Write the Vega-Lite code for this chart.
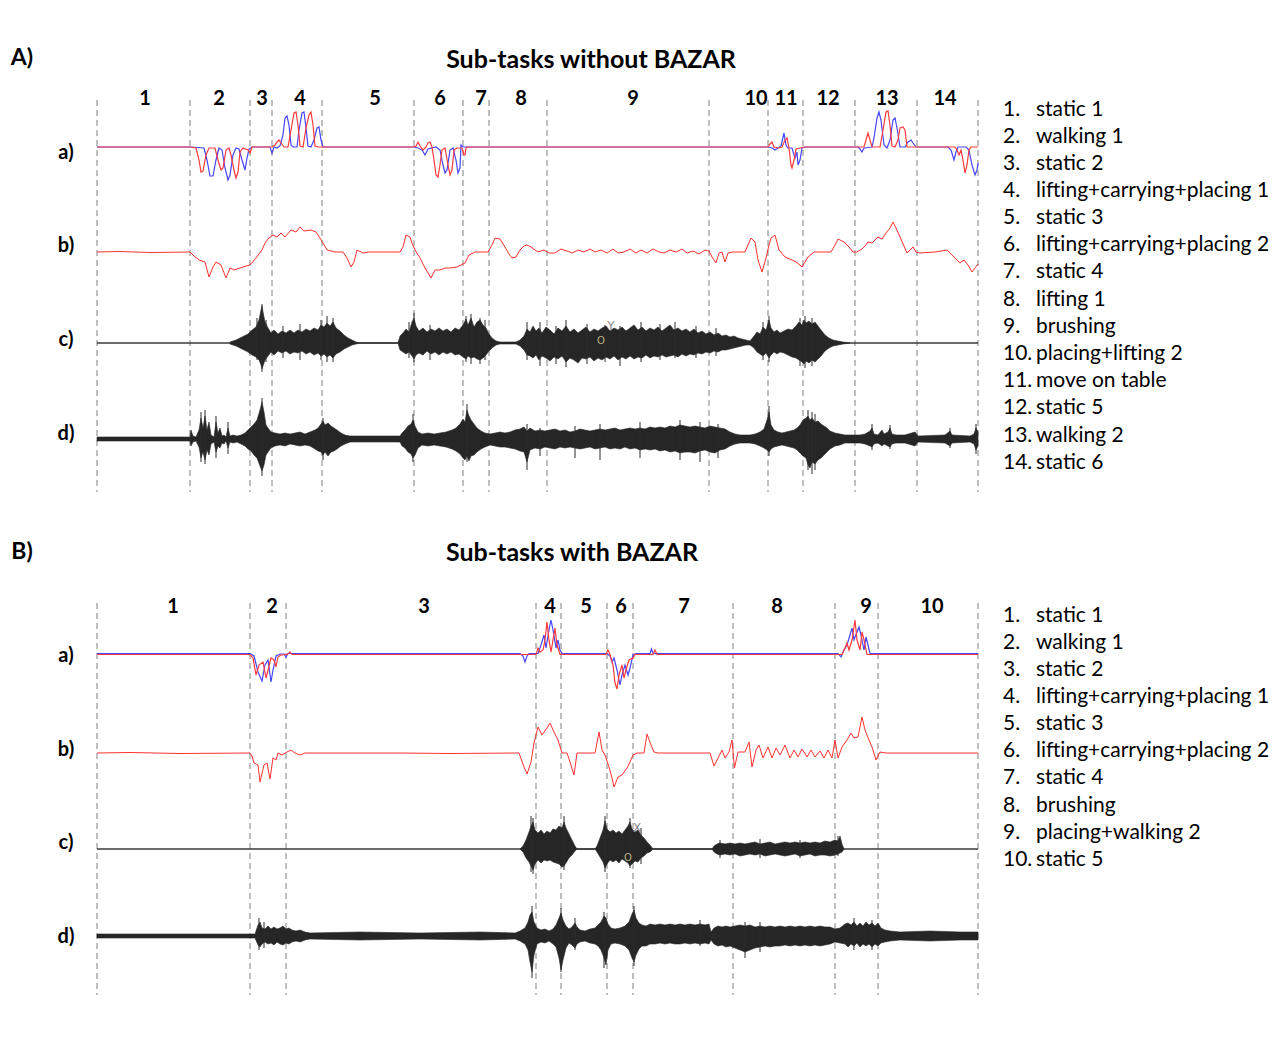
{
"$schema": "https://vega.github.io/schema/vega-lite/v6.json",
"width": 1286, "height": 1039,
"autosize": {"type": "fit", "contains": "padding"},
"padding": 0,
"background": "white",
"config": {"view": {"stroke": null}},
"datasets": {
"bounds": [
{"t":97,"y":100,"y2":492},{"t":190,"y":100,"y2":492},{"t":250,"y":100,"y2":492},{"t":272,"y":100,"y2":492},{"t":322,"y":100,"y2":492},{"t":414,"y":100,"y2":492},{"t":463,"y":100,"y2":492},{"t":489,"y":100,"y2":492},{"t":547,"y":100,"y2":492},{"t":709,"y":100,"y2":492},{"t":768,"y":100,"y2":492},{"t":803,"y":100,"y2":492},{"t":855,"y":100,"y2":492},{"t":917,"y":100,"y2":492},{"t":978,"y":100,"y2":492},
{"t":97,"y":603,"y2":995},{"t":250,"y":603,"y2":995},{"t":286,"y":603,"y2":995},{"t":536,"y":603,"y2":995},{"t":561,"y":603,"y2":995},{"t":607,"y":603,"y2":995},{"t":633,"y":603,"y2":995},{"t":733,"y":603,"y2":995},{"t":835,"y":603,"y2":995},{"t":878,"y":603,"y2":995},{"t":978,"y":603,"y2":995}
],
"baselines": [{"t":97,"t2":978,"y":343},{"t":97,"t2":978,"y":849}],
"spikes": [
{"t":257,"y":318,"y2":360},{"t":262,"y":304,"y2":372},{"t":266,"y":320,"y2":362},{"t":283,"y":326,"y2":358},{"t":300,"y":324,"y2":360},{"t":321,"y":320,"y2":360},{"t":327,"y":316,"y2":362},{"t":333,"y":318,"y2":362},{"t":409,"y":322,"y2":358},{"t":414,"y":313,"y2":362},{"t":430,"y":325,"y2":360},{"t":466,"y":316,"y2":362},{"t":471,"y":314,"y2":364},{"t":480,"y":318,"y2":364},{"t":485,"y":320,"y2":360},{"t":527,"y":322,"y2":360},{"t":540,"y":322,"y2":366},{"t":556,"y":326,"y2":364},{"t":566,"y":320,"y2":367},{"t":587,"y":324,"y2":364},{"t":605,"y":325,"y2":362},{"t":620,"y":326,"y2":366},{"t":641,"y":322,"y2":362},{"t":660,"y":324,"y2":360},{"t":675,"y":322,"y2":358},{"t":696,"y":326,"y2":358},{"t":716,"y":328,"y2":356},{"t":763,"y":322,"y2":360},{"t":769,"y":316,"y2":362},{"t":800,"y":318,"y2":366},{"t":805,"y":316,"y2":368},{"t":812,"y":318,"y2":366},
{"t":201,"y":412,"y2":462},{"t":205,"y":410,"y2":464},{"t":216,"y":416,"y2":458},{"t":228,"y":422,"y2":454},{"t":262,"y":398,"y2":476},{"t":323,"y":418,"y2":460},{"t":413,"y":414,"y2":462},{"t":467,"y":404,"y2":462},{"t":527,"y":424,"y2":470},{"t":540,"y":428,"y2":456},{"t":575,"y":426,"y2":458},{"t":600,"y":424,"y2":460},{"t":640,"y":422,"y2":458},{"t":680,"y":420,"y2":460},{"t":700,"y":422,"y2":462},{"t":718,"y":424,"y2":458},{"t":769,"y":406,"y2":456},{"t":808,"y":410,"y2":470},{"t":812,"y":412,"y2":474},{"t":815,"y":414,"y2":470},{"t":872,"y":424,"y2":450},{"t":890,"y":425,"y2":449},{"t":950,"y":428,"y2":448},{"t":976,"y":424,"y2":454},
{"t":531,"y":816,"y2":872},{"t":533,"y":818,"y2":874},{"t":564,"y":816,"y2":870},{"t":605,"y":816,"y2":872},{"t":630,"y":818,"y2":868},{"t":641,"y":828,"y2":864},{"t":720,"y":840,"y2":858},{"t":760,"y":839,"y2":858},{"t":800,"y":840,"y2":858},{"t":838,"y":836,"y2":856},
{"t":259,"y":918,"y2":950},{"t":264,"y":922,"y2":948},{"t":532,"y":906,"y2":978},{"t":561,"y":908,"y2":972},{"t":604,"y":912,"y2":968},{"t":634,"y":906,"y2":966},{"t":575,"y":918,"y2":950},{"t":700,"y":920,"y2":946},{"t":745,"y":922,"y2":958},{"t":760,"y":922,"y2":952},{"t":854,"y":918,"y2":950},{"t":872,"y":920,"y2":950}
],
"env": [
{"trace":"Ac","t":230,"y":342,"y2":344},{"trace":"Ac","t":236,"y":340,"y2":346},{"trace":"Ac","t":242,"y":337,"y2":349},{"trace":"Ac","t":248,"y":334,"y2":352},{"trace":"Ac","t":252,"y":330,"y2":355},{"trace":"Ac","t":256,"y":327,"y2":357},{"trace":"Ac","t":259,"y":320,"y2":360},{"trace":"Ac","t":261,"y":310,"y2":365},{"trace":"Ac","t":262,"y":306,"y2":369},{"trace":"Ac","t":263,"y":312,"y2":366},{"trace":"Ac","t":265,"y":322,"y2":360},{"trace":"Ac","t":268,"y":328,"y2":356},{"trace":"Ac","t":271,"y":333,"y2":352},{"trace":"Ac","t":274,"y":330,"y2":355},{"trace":"Ac","t":278,"y":334,"y2":351},{"trace":"Ac","t":282,"y":331,"y2":353},{"trace":"Ac","t":286,"y":333,"y2":351},{"trace":"Ac","t":290,"y":330,"y2":354},{"trace":"Ac","t":294,"y":333,"y2":352},{"trace":"Ac","t":298,"y":330,"y2":353},{"trace":"Ac","t":302,"y":332,"y2":351},{"trace":"Ac","t":306,"y":329,"y2":354},{"trace":"Ac","t":310,"y":331,"y2":352},{"trace":"Ac","t":314,"y":328,"y2":355},{"trace":"Ac","t":318,"y":330,"y2":353},{"trace":"Ac","t":321,"y":325,"y2":356},{"trace":"Ac","t":324,"y":327,"y2":354},{"trace":"Ac","t":327,"y":323,"y2":357},{"trace":"Ac","t":330,"y":326,"y2":355},{"trace":"Ac","t":333,"y":322,"y2":358},{"trace":"Ac","t":336,"y":328,"y2":354},{"trace":"Ac","t":340,"y":331,"y2":352},{"trace":"Ac","t":344,"y":335,"y2":349},{"trace":"Ac","t":348,"y":338,"y2":347},{"trace":"Ac","t":352,"y":340,"y2":345},{"trace":"Ac","t":356,"y":342,"y2":344},{"trace":"Ac","t":360,"y":343,"y2":343},{"trace":"Ac","t":398,"y":343,"y2":343},
{"trace":"Ac","t":400,"y":336,"y2":350},{"trace":"Ac","t":403,"y":333,"y2":352},{"trace":"Ac","t":406,"y":329,"y2":354},{"trace":"Ac","t":409,"y":332,"y2":352},{"trace":"Ac","t":412,"y":322,"y2":356},{"trace":"Ac","t":414,"y":318,"y2":359},{"trace":"Ac","t":416,"y":326,"y2":355},{"trace":"Ac","t":419,"y":331,"y2":353},{"trace":"Ac","t":423,"y":328,"y2":355},{"trace":"Ac","t":427,"y":332,"y2":351},{"trace":"Ac","t":431,"y":329,"y2":354},{"trace":"Ac","t":435,"y":331,"y2":352},{"trace":"Ac","t":439,"y":328,"y2":355},{"trace":"Ac","t":443,"y":331,"y2":352},{"trace":"Ac","t":447,"y":329,"y2":354},{"trace":"Ac","t":451,"y":332,"y2":352},{"trace":"Ac","t":455,"y":328,"y2":355},{"trace":"Ac","t":459,"y":330,"y2":354},{"trace":"Ac","t":463,"y":325,"y2":357},{"trace":"Ac","t":466,"y":319,"y2":359},{"trace":"Ac","t":468,"y":325,"y2":356},{"trace":"Ac","t":471,"y":318,"y2":358},{"trace":"Ac","t":474,"y":327,"y2":357},{"trace":"Ac","t":477,"y":322,"y2":359},{"trace":"Ac","t":480,"y":320,"y2":360},{"trace":"Ac","t":483,"y":325,"y2":358},{"trace":"Ac","t":486,"y":328,"y2":355},{"trace":"Ac","t":489,"y":334,"y2":351},{"trace":"Ac","t":492,"y":338,"y2":348},{"trace":"Ac","t":496,"y":341,"y2":345},{"trace":"Ac","t":500,"y":342,"y2":344},{"trace":"Ac","t":516,"y":342,"y2":344},
{"trace":"Ac","t":520,"y":340,"y2":346},{"trace":"Ac","t":524,"y":336,"y2":350},{"trace":"Ac","t":527,"y":329,"y2":355},{"trace":"Ac","t":530,"y":332,"y2":356},{"trace":"Ac","t":533,"y":326,"y2":358},{"trace":"Ac","t":536,"y":331,"y2":355},{"trace":"Ac","t":539,"y":328,"y2":360},{"trace":"Ac","t":542,"y":333,"y2":356},{"trace":"Ac","t":546,"y":327,"y2":358},{"trace":"Ac","t":550,"y":330,"y2":361},{"trace":"Ac","t":554,"y":334,"y2":357},{"trace":"Ac","t":558,"y":328,"y2":359},{"trace":"Ac","t":562,"y":331,"y2":356},{"trace":"Ac","t":566,"y":326,"y2":362},{"trace":"Ac","t":570,"y":332,"y2":358},{"trace":"Ac","t":574,"y":329,"y2":360},{"trace":"Ac","t":578,"y":333,"y2":363},{"trace":"Ac","t":582,"y":330,"y2":358},{"trace":"Ac","t":586,"y":327,"y2":359},{"trace":"Ac","t":590,"y":332,"y2":357},{"trace":"Ac","t":594,"y":329,"y2":361},{"trace":"Ac","t":598,"y":331,"y2":358},{"trace":"Ac","t":602,"y":328,"y2":360},{"trace":"Ac","t":606,"y":326,"y2":357},{"trace":"Ac","t":610,"y":331,"y2":359},{"trace":"Ac","t":614,"y":328,"y2":356},{"trace":"Ac","t":618,"y":330,"y2":360},{"trace":"Ac","t":622,"y":327,"y2":357},{"trace":"Ac","t":626,"y":331,"y2":359},{"trace":"Ac","t":630,"y":328,"y2":356},{"trace":"Ac","t":634,"y":325,"y2":359},{"trace":"Ac","t":638,"y":330,"y2":357},{"trace":"Ac","t":642,"y":327,"y2":358},{"trace":"Ac","t":646,"y":331,"y2":355},{"trace":"Ac","t":650,"y":328,"y2":358},{"trace":"Ac","t":654,"y":330,"y2":356},{"trace":"Ac","t":658,"y":327,"y2":357},{"trace":"Ac","t":662,"y":331,"y2":355},{"trace":"Ac","t":666,"y":328,"y2":357},{"trace":"Ac","t":670,"y":325,"y2":356},{"trace":"Ac","t":674,"y":330,"y2":355},{"trace":"Ac","t":678,"y":328,"y2":357},{"trace":"Ac","t":682,"y":331,"y2":354},{"trace":"Ac","t":686,"y":329,"y2":356},{"trace":"Ac","t":690,"y":332,"y2":354},{"trace":"Ac","t":694,"y":329,"y2":355},{"trace":"Ac","t":698,"y":333,"y2":353},{"trace":"Ac","t":702,"y":331,"y2":354},{"trace":"Ac","t":706,"y":334,"y2":352},{"trace":"Ac","t":710,"y":332,"y2":353},{"trace":"Ac","t":714,"y":335,"y2":351},{"trace":"Ac","t":718,"y":333,"y2":352},{"trace":"Ac","t":722,"y":336,"y2":350},{"trace":"Ac","t":726,"y":335,"y2":350},{"trace":"Ac","t":730,"y":337,"y2":349},{"trace":"Ac","t":734,"y":336,"y2":348},{"trace":"Ac","t":738,"y":338,"y2":347},{"trace":"Ac","t":742,"y":339,"y2":346},{"trace":"Ac","t":746,"y":340,"y2":345},{"trace":"Ac","t":750,"y":341,"y2":345},{"trace":"Ac","t":754,"y":336,"y2":348},{"trace":"Ac","t":757,"y":332,"y2":352},{"trace":"Ac","t":760,"y":334,"y2":354},{"trace":"Ac","t":763,"y":327,"y2":356},{"trace":"Ac","t":766,"y":330,"y2":353},{"trace":"Ac","t":769,"y":320,"y2":358},{"trace":"Ac","t":771,"y":328,"y2":355},{"trace":"Ac","t":774,"y":332,"y2":352},{"trace":"Ac","t":777,"y":330,"y2":354},{"trace":"Ac","t":780,"y":333,"y2":352},{"trace":"Ac","t":784,"y":331,"y2":353},{"trace":"Ac","t":788,"y":329,"y2":355},{"trace":"Ac","t":792,"y":330,"y2":357},{"trace":"Ac","t":796,"y":326,"y2":358},{"trace":"Ac","t":799,"y":322,"y2":360},{"trace":"Ac","t":802,"y":325,"y2":362},{"trace":"Ac","t":804,"y":320,"y2":364},{"trace":"Ac","t":806,"y":323,"y2":361},{"trace":"Ac","t":809,"y":321,"y2":363},{"trace":"Ac","t":812,"y":324,"y2":360},{"trace":"Ac","t":815,"y":322,"y2":362},{"trace":"Ac","t":818,"y":326,"y2":359},{"trace":"Ac","t":821,"y":330,"y2":356},{"trace":"Ac","t":825,"y":335,"y2":351},{"trace":"Ac","t":829,"y":338,"y2":348},{"trace":"Ac","t":833,"y":340,"y2":346},{"trace":"Ac","t":838,"y":341,"y2":345},{"trace":"Ac","t":843,"y":342,"y2":344},{"trace":"Ac","t":850,"y":343,"y2":343},
{"trace":"Ad","t":97,"y":437,"y2":441},{"trace":"Ad","t":190,"y":437,"y2":441},{"trace":"Ad","t":191,"y":430,"y2":446},{"trace":"Ad","t":193,"y":436,"y2":442},{"trace":"Ad","t":196,"y":437,"y2":441},{"trace":"Ad","t":199,"y":430,"y2":447},{"trace":"Ad","t":201,"y":418,"y2":458},{"trace":"Ad","t":203,"y":428,"y2":452},{"trace":"Ad","t":205,"y":416,"y2":460},{"trace":"Ad","t":207,"y":430,"y2":450},{"trace":"Ad","t":209,"y":422,"y2":455},{"trace":"Ad","t":211,"y":435,"y2":444},{"trace":"Ad","t":214,"y":437,"y2":442},{"trace":"Ad","t":216,"y":422,"y2":452},{"trace":"Ad","t":218,"y":433,"y2":446},{"trace":"Ad","t":220,"y":428,"y2":448},{"trace":"Ad","t":222,"y":436,"y2":443},{"trace":"Ad","t":224,"y":435,"y2":444},{"trace":"Ad","t":226,"y":437,"y2":441},{"trace":"Ad","t":228,"y":428,"y2":448},{"trace":"Ad","t":230,"y":436,"y2":442},{"trace":"Ad","t":233,"y":435,"y2":443},{"trace":"Ad","t":237,"y":436,"y2":442},{"trace":"Ad","t":241,"y":435,"y2":444},{"trace":"Ad","t":245,"y":433,"y2":446},{"trace":"Ad","t":248,"y":430,"y2":449},{"trace":"Ad","t":251,"y":427,"y2":451},{"trace":"Ad","t":254,"y":424,"y2":455},{"trace":"Ad","t":257,"y":420,"y2":458},{"trace":"Ad","t":260,"y":410,"y2":466},{"trace":"Ad","t":262,"y":402,"y2":471},{"trace":"Ad","t":264,"y":412,"y2":465},{"trace":"Ad","t":266,"y":425,"y2":455},{"trace":"Ad","t":268,"y":428,"y2":452},{"trace":"Ad","t":271,"y":432,"y2":448},{"trace":"Ad","t":275,"y":433,"y2":446},{"trace":"Ad","t":280,"y":434,"y2":445},{"trace":"Ad","t":285,"y":433,"y2":446},{"trace":"Ad","t":290,"y":434,"y2":444},{"trace":"Ad","t":295,"y":433,"y2":445},{"trace":"Ad","t":300,"y":432,"y2":446},{"trace":"Ad","t":305,"y":434,"y2":445},{"trace":"Ad","t":310,"y":432,"y2":446},{"trace":"Ad","t":315,"y":430,"y2":449},{"trace":"Ad","t":318,"y":428,"y2":451},{"trace":"Ad","t":321,"y":424,"y2":452},{"trace":"Ad","t":323,"y":421,"y2":455},{"trace":"Ad","t":325,"y":425,"y2":452},{"trace":"Ad","t":328,"y":423,"y2":456},{"trace":"Ad","t":331,"y":426,"y2":452},{"trace":"Ad","t":334,"y":428,"y2":451},{"trace":"Ad","t":337,"y":430,"y2":449},{"trace":"Ad","t":341,"y":433,"y2":446},{"trace":"Ad","t":345,"y":435,"y2":444},{"trace":"Ad","t":350,"y":436,"y2":442},{"trace":"Ad","t":375,"y":436,"y2":442},{"trace":"Ad","t":400,"y":436,"y2":442},{"trace":"Ad","t":402,"y":433,"y2":446},{"trace":"Ad","t":405,"y":430,"y2":448},{"trace":"Ad","t":408,"y":426,"y2":452},{"trace":"Ad","t":411,"y":424,"y2":454},{"trace":"Ad","t":413,"y":420,"y2":458},{"trace":"Ad","t":415,"y":426,"y2":455},{"trace":"Ad","t":418,"y":432,"y2":448},{"trace":"Ad","t":422,"y":434,"y2":445},{"trace":"Ad","t":428,"y":433,"y2":446},{"trace":"Ad","t":434,"y":434,"y2":445},{"trace":"Ad","t":440,"y":433,"y2":446},{"trace":"Ad","t":446,"y":432,"y2":447},{"trace":"Ad","t":452,"y":430,"y2":449},{"trace":"Ad","t":456,"y":428,"y2":451},{"trace":"Ad","t":460,"y":424,"y2":454},{"trace":"Ad","t":463,"y":419,"y2":458},{"trace":"Ad","t":465,"y":422,"y2":460},{"trace":"Ad","t":467,"y":410,"y2":456},{"trace":"Ad","t":469,"y":416,"y2":461},{"trace":"Ad","t":471,"y":420,"y2":456},{"trace":"Ad","t":474,"y":424,"y2":455},{"trace":"Ad","t":477,"y":428,"y2":452},{"trace":"Ad","t":481,"y":431,"y2":449},{"trace":"Ad","t":485,"y":433,"y2":447},{"trace":"Ad","t":490,"y":434,"y2":445},{"trace":"Ad","t":495,"y":433,"y2":446},{"trace":"Ad","t":500,"y":432,"y2":447},{"trace":"Ad","t":505,"y":433,"y2":447},{"trace":"Ad","t":510,"y":432,"y2":448},{"trace":"Ad","t":515,"y":430,"y2":449},{"trace":"Ad","t":520,"y":429,"y2":451},{"trace":"Ad","t":524,"y":427,"y2":452},{"trace":"Ad","t":527,"y":431,"y2":462},{"trace":"Ad","t":530,"y":428,"y2":450},{"trace":"Ad","t":535,"y":431,"y2":448},{"trace":"Ad","t":540,"y":430,"y2":449},{"trace":"Ad","t":545,"y":431,"y2":447},{"trace":"Ad","t":550,"y":430,"y2":448},{"trace":"Ad","t":555,"y":429,"y2":449},{"trace":"Ad","t":560,"y":431,"y2":447},{"trace":"Ad","t":565,"y":430,"y2":448},{"trace":"Ad","t":570,"y":432,"y2":447},{"trace":"Ad","t":575,"y":431,"y2":448},{"trace":"Ad","t":580,"y":429,"y2":449},{"trace":"Ad","t":585,"y":430,"y2":448},{"trace":"Ad","t":590,"y":431,"y2":447},{"trace":"Ad","t":595,"y":430,"y2":449},{"trace":"Ad","t":600,"y":429,"y2":448},{"trace":"Ad","t":605,"y":430,"y2":447},{"trace":"Ad","t":610,"y":429,"y2":449},{"trace":"Ad","t":615,"y":428,"y2":448},{"trace":"Ad","t":620,"y":430,"y2":449},{"trace":"Ad","t":625,"y":429,"y2":447},{"trace":"Ad","t":630,"y":428,"y2":449},{"trace":"Ad","t":635,"y":429,"y2":448},{"trace":"Ad","t":640,"y":428,"y2":450},{"trace":"Ad","t":645,"y":429,"y2":449},{"trace":"Ad","t":650,"y":427,"y2":450},{"trace":"Ad","t":655,"y":428,"y2":449},{"trace":"Ad","t":660,"y":427,"y2":451},{"trace":"Ad","t":665,"y":428,"y2":450},{"trace":"Ad","t":670,"y":426,"y2":452},{"trace":"Ad","t":675,"y":427,"y2":451},{"trace":"Ad","t":680,"y":425,"y2":453},{"trace":"Ad","t":685,"y":426,"y2":452},{"trace":"Ad","t":690,"y":427,"y2":452},{"trace":"Ad","t":695,"y":426,"y2":453},{"trace":"Ad","t":700,"y":427,"y2":451},{"trace":"Ad","t":705,"y":428,"y2":450},{"trace":"Ad","t":710,"y":426,"y2":452},{"trace":"Ad","t":715,"y":427,"y2":453},{"trace":"Ad","t":720,"y":428,"y2":450},{"trace":"Ad","t":725,"y":429,"y2":449},{"trace":"Ad","t":730,"y":432,"y2":446},{"trace":"Ad","t":735,"y":434,"y2":444},{"trace":"Ad","t":740,"y":435,"y2":443},{"trace":"Ad","t":750,"y":435,"y2":443},{"trace":"Ad","t":755,"y":434,"y2":444},{"trace":"Ad","t":760,"y":432,"y2":446},{"trace":"Ad","t":764,"y":429,"y2":448},{"trace":"Ad","t":767,"y":420,"y2":450},{"trace":"Ad","t":769,"y":412,"y2":452},{"trace":"Ad","t":771,"y":425,"y2":449},{"trace":"Ad","t":774,"y":430,"y2":447},{"trace":"Ad","t":778,"y":432,"y2":446},{"trace":"Ad","t":782,"y":433,"y2":445},{"trace":"Ad","t":786,"y":432,"y2":446},{"trace":"Ad","t":790,"y":431,"y2":447},{"trace":"Ad","t":794,"y":430,"y2":448},{"trace":"Ad","t":797,"y":428,"y2":450},{"trace":"Ad","t":800,"y":425,"y2":453},{"trace":"Ad","t":803,"y":420,"y2":456},{"trace":"Ad","t":806,"y":418,"y2":458},{"trace":"Ad","t":808,"y":416,"y2":465},{"trace":"Ad","t":810,"y":420,"y2":468},{"trace":"Ad","t":812,"y":418,"y2":462},{"trace":"Ad","t":815,"y":422,"y2":464},{"trace":"Ad","t":818,"y":421,"y2":460},{"trace":"Ad","t":821,"y":424,"y2":458},{"trace":"Ad","t":824,"y":426,"y2":455},{"trace":"Ad","t":827,"y":428,"y2":452},{"trace":"Ad","t":830,"y":431,"y2":449},{"trace":"Ad","t":835,"y":433,"y2":446},{"trace":"Ad","t":840,"y":434,"y2":445},{"trace":"Ad","t":845,"y":435,"y2":443},{"trace":"Ad","t":860,"y":435,"y2":443},{"trace":"Ad","t":865,"y":434,"y2":444},{"trace":"Ad","t":870,"y":431,"y2":446},{"trace":"Ad","t":872,"y":428,"y2":447},{"trace":"Ad","t":874,"y":434,"y2":444},{"trace":"Ad","t":878,"y":435,"y2":443},{"trace":"Ad","t":882,"y":430,"y2":446},{"trace":"Ad","t":884,"y":434,"y2":444},{"trace":"Ad","t":888,"y":432,"y2":446},{"trace":"Ad","t":890,"y":428,"y2":447},{"trace":"Ad","t":892,"y":434,"y2":444},{"trace":"Ad","t":896,"y":435,"y2":443},{"trace":"Ad","t":905,"y":435,"y2":443},{"trace":"Ad","t":915,"y":432,"y2":446},{"trace":"Ad","t":918,"y":436,"y2":442},{"trace":"Ad","t":945,"y":435,"y2":443},{"trace":"Ad","t":950,"y":431,"y2":446},{"trace":"Ad","t":952,"y":435,"y2":443},{"trace":"Ad","t":970,"y":436,"y2":442},{"trace":"Ad","t":974,"y":434,"y2":444},{"trace":"Ad","t":976,"y":428,"y2":450},{"trace":"Ad","t":978,"y":432,"y2":446},
{"trace":"Bc","t":520,"y":849,"y2":849},{"trace":"Bc","t":523,"y":846,"y2":852},{"trace":"Bc","t":526,"y":840,"y2":858},{"trace":"Bc","t":529,"y":832,"y2":862},{"trace":"Bc","t":531,"y":826,"y2":866},{"trace":"Bc","t":533,"y":822,"y2":870},{"trace":"Bc","t":535,"y":830,"y2":864},{"trace":"Bc","t":538,"y":833,"y2":860},{"trace":"Bc","t":541,"y":830,"y2":863},{"trace":"Bc","t":544,"y":834,"y2":860},{"trace":"Bc","t":547,"y":831,"y2":861},{"trace":"Bc","t":550,"y":833,"y2":860},{"trace":"Bc","t":553,"y":829,"y2":862},{"trace":"Bc","t":556,"y":830,"y2":863},{"trace":"Bc","t":559,"y":826,"y2":864},{"trace":"Bc","t":562,"y":828,"y2":867},{"trace":"Bc","t":564,"y":822,"y2":866},{"trace":"Bc","t":566,"y":828,"y2":863},{"trace":"Bc","t":569,"y":834,"y2":858},{"trace":"Bc","t":572,"y":840,"y2":855},{"trace":"Bc","t":575,"y":846,"y2":851},{"trace":"Bc","t":577,"y":849,"y2":849},{"trace":"Bc","t":595,"y":849,"y2":849},{"trace":"Bc","t":597,"y":846,"y2":852},{"trace":"Bc","t":600,"y":838,"y2":857},{"trace":"Bc","t":603,"y":830,"y2":862},{"trace":"Bc","t":605,"y":821,"y2":868},{"trace":"Bc","t":607,"y":829,"y2":864},{"trace":"Bc","t":610,"y":832,"y2":860},{"trace":"Bc","t":613,"y":830,"y2":862},{"trace":"Bc","t":616,"y":833,"y2":860},{"trace":"Bc","t":619,"y":831,"y2":863},{"trace":"Bc","t":622,"y":834,"y2":859},{"trace":"Bc","t":625,"y":830,"y2":861},{"trace":"Bc","t":628,"y":826,"y2":863},{"trace":"Bc","t":630,"y":822,"y2":866},{"trace":"Bc","t":632,"y":829,"y2":864},{"trace":"Bc","t":635,"y":832,"y2":861},{"trace":"Bc","t":638,"y":830,"y2":862},{"trace":"Bc","t":641,"y":835,"y2":858},{"trace":"Bc","t":644,"y":838,"y2":856},{"trace":"Bc","t":647,"y":842,"y2":853},{"trace":"Bc","t":650,"y":845,"y2":852},{"trace":"Bc","t":653,"y":849,"y2":849},{"trace":"Bc","t":712,"y":849,"y2":849},{"trace":"Bc","t":714,"y":846,"y2":852},{"trace":"Bc","t":717,"y":844,"y2":854},{"trace":"Bc","t":720,"y":843,"y2":855},{"trace":"Bc","t":725,"y":844,"y2":854},{"trace":"Bc","t":730,"y":843,"y2":855},{"trace":"Bc","t":735,"y":844,"y2":854},{"trace":"Bc","t":740,"y":843,"y2":856},{"trace":"Bc","t":745,"y":844,"y2":855},{"trace":"Bc","t":750,"y":843,"y2":854},{"trace":"Bc","t":755,"y":842,"y2":855},{"trace":"Bc","t":760,"y":844,"y2":854},{"trace":"Bc","t":765,"y":843,"y2":856},{"trace":"Bc","t":770,"y":842,"y2":855},{"trace":"Bc","t":775,"y":844,"y2":854},{"trace":"Bc","t":780,"y":843,"y2":855},{"trace":"Bc","t":785,"y":842,"y2":856},{"trace":"Bc","t":790,"y":843,"y2":855},{"trace":"Bc","t":795,"y":842,"y2":854},{"trace":"Bc","t":800,"y":843,"y2":856},{"trace":"Bc","t":805,"y":842,"y2":855},{"trace":"Bc","t":810,"y":843,"y2":854},{"trace":"Bc","t":815,"y":842,"y2":856},{"trace":"Bc","t":820,"y":843,"y2":855},{"trace":"Bc","t":825,"y":841,"y2":855},{"trace":"Bc","t":830,"y":842,"y2":856},{"trace":"Bc","t":835,"y":840,"y2":855},{"trace":"Bc","t":838,"y":841,"y2":854},{"trace":"Bc","t":840,"y":836,"y2":853},{"trace":"Bc","t":842,"y":844,"y2":852},{"trace":"Bc","t":844,"y":849,"y2":849},
{"trace":"Bd","t":97,"y":934,"y2":938},{"trace":"Bd","t":255,"y":934,"y2":938},{"trace":"Bd","t":258,"y":925,"y2":945},{"trace":"Bd","t":260,"y":922,"y2":947},{"trace":"Bd","t":262,"y":928,"y2":944},{"trace":"Bd","t":265,"y":929,"y2":942},{"trace":"Bd","t":268,"y":926,"y2":944},{"trace":"Bd","t":271,"y":929,"y2":943},{"trace":"Bd","t":274,"y":927,"y2":945},{"trace":"Bd","t":277,"y":929,"y2":942},{"trace":"Bd","t":280,"y":928,"y2":944},{"trace":"Bd","t":283,"y":926,"y2":945},{"trace":"Bd","t":286,"y":929,"y2":943},{"trace":"Bd","t":289,"y":928,"y2":944},{"trace":"Bd","t":292,"y":930,"y2":942},{"trace":"Bd","t":296,"y":931,"y2":941},{"trace":"Bd","t":300,"y":930,"y2":942},{"trace":"Bd","t":305,"y":932,"y2":940},{"trace":"Bd","t":310,"y":933,"y2":939},{"trace":"Bd","t":360,"y":932,"y2":940},{"trace":"Bd","t":420,"y":933,"y2":939},{"trace":"Bd","t":480,"y":932,"y2":940},{"trace":"Bd","t":515,"y":933,"y2":939},{"trace":"Bd","t":520,"y":931,"y2":941},{"trace":"Bd","t":525,"y":928,"y2":944},{"trace":"Bd","t":528,"y":922,"y2":950},{"trace":"Bd","t":530,"y":915,"y2":962},{"trace":"Bd","t":532,"y":912,"y2":972},{"trace":"Bd","t":534,"y":922,"y2":955},{"trace":"Bd","t":537,"y":928,"y2":944},{"trace":"Bd","t":541,"y":930,"y2":942},{"trace":"Bd","t":545,"y":929,"y2":943},{"trace":"Bd","t":549,"y":931,"y2":941},{"trace":"Bd","t":553,"y":929,"y2":944},{"trace":"Bd","t":556,"y":925,"y2":947},{"trace":"Bd","t":559,"y":918,"y2":958},{"trace":"Bd","t":561,"y":913,"y2":970},{"trace":"Bd","t":563,"y":920,"y2":960},{"trace":"Bd","t":566,"y":926,"y2":948},{"trace":"Bd","t":569,"y":929,"y2":943},{"trace":"Bd","t":572,"y":927,"y2":945},{"trace":"Bd","t":575,"y":923,"y2":948},{"trace":"Bd","t":577,"y":927,"y2":944},{"trace":"Bd","t":580,"y":930,"y2":942},{"trace":"Bd","t":585,"y":931,"y2":941},{"trace":"Bd","t":590,"y":929,"y2":943},{"trace":"Bd","t":595,"y":928,"y2":944},{"trace":"Bd","t":598,"y":925,"y2":946},{"trace":"Bd","t":601,"y":922,"y2":950},{"trace":"Bd","t":604,"y":916,"y2":958},{"trace":"Bd","t":606,"y":918,"y2":965},{"trace":"Bd","t":608,"y":924,"y2":950},{"trace":"Bd","t":611,"y":928,"y2":944},{"trace":"Bd","t":615,"y":929,"y2":943},{"trace":"Bd","t":620,"y":928,"y2":944},{"trace":"Bd","t":625,"y":926,"y2":946},{"trace":"Bd","t":629,"y":922,"y2":950},{"trace":"Bd","t":632,"y":914,"y2":958},{"trace":"Bd","t":634,"y":910,"y2":962},{"trace":"Bd","t":636,"y":918,"y2":955},{"trace":"Bd","t":639,"y":923,"y2":949},{"trace":"Bd","t":642,"y":925,"y2":946},{"trace":"Bd","t":646,"y":926,"y2":946},{"trace":"Bd","t":650,"y":924,"y2":944},{"trace":"Bd","t":655,"y":925,"y2":944},{"trace":"Bd","t":660,"y":924,"y2":943},{"trace":"Bd","t":665,"y":925,"y2":944},{"trace":"Bd","t":670,"y":924,"y2":943},{"trace":"Bd","t":675,"y":925,"y2":944},{"trace":"Bd","t":680,"y":924,"y2":944},{"trace":"Bd","t":685,"y":925,"y2":943},{"trace":"Bd","t":690,"y":924,"y2":944},{"trace":"Bd","t":695,"y":925,"y2":943},{"trace":"Bd","t":700,"y":924,"y2":944},{"trace":"Bd","t":705,"y":925,"y2":943},{"trace":"Bd","t":709,"y":924,"y2":944},{"trace":"Bd","t":711,"y":932,"y2":940},{"trace":"Bd","t":714,"y":928,"y2":944},{"trace":"Bd","t":718,"y":926,"y2":946},{"trace":"Bd","t":722,"y":927,"y2":945},{"trace":"Bd","t":726,"y":926,"y2":947},{"trace":"Bd","t":730,"y":927,"y2":946},{"trace":"Bd","t":735,"y":926,"y2":948},{"trace":"Bd","t":740,"y":925,"y2":950},{"trace":"Bd","t":745,"y":926,"y2":952},{"trace":"Bd","t":750,"y":925,"y2":950},{"trace":"Bd","t":755,"y":927,"y2":948},{"trace":"Bd","t":760,"y":926,"y2":947},{"trace":"Bd","t":765,"y":927,"y2":946},{"trace":"Bd","t":770,"y":926,"y2":947},{"trace":"Bd","t":775,"y":927,"y2":946},{"trace":"Bd","t":780,"y":926,"y2":946},{"trace":"Bd","t":785,"y":927,"y2":945},{"trace":"Bd","t":790,"y":926,"y2":946},{"trace":"Bd","t":795,"y":927,"y2":945},{"trace":"Bd","t":800,"y":926,"y2":946},{"trace":"Bd","t":805,"y":927,"y2":945},{"trace":"Bd","t":810,"y":926,"y2":946},{"trace":"Bd","t":815,"y":927,"y2":945},{"trace":"Bd","t":820,"y":926,"y2":946},{"trace":"Bd","t":825,"y":927,"y2":945},{"trace":"Bd","t":830,"y":927,"y2":944},{"trace":"Bd","t":835,"y":929,"y2":942},{"trace":"Bd","t":840,"y":928,"y2":943},{"trace":"Bd","t":845,"y":924,"y2":944},{"trace":"Bd","t":848,"y":923,"y2":947},{"trace":"Bd","t":851,"y":925,"y2":944},{"trace":"Bd","t":854,"y":922,"y2":946},{"trace":"Bd","t":857,"y":926,"y2":943},{"trace":"Bd","t":860,"y":923,"y2":947},{"trace":"Bd","t":863,"y":926,"y2":944},{"trace":"Bd","t":866,"y":922,"y2":946},{"trace":"Bd","t":869,"y":925,"y2":944},{"trace":"Bd","t":872,"y":923,"y2":947},{"trace":"Bd","t":875,"y":926,"y2":944},{"trace":"Bd","t":878,"y":923,"y2":946},{"trace":"Bd","t":881,"y":928,"y2":943},{"trace":"Bd","t":885,"y":930,"y2":942},{"trace":"Bd","t":890,"y":931,"y2":941},{"trace":"Bd","t":900,"y":932,"y2":940},{"trace":"Bd","t":930,"y":931,"y2":941},{"trace":"Bd","t":960,"y":932,"y2":940},{"trace":"Bd","t":978,"y":932,"y2":940}
],
"bsig": [
{"trace":"A","t":97,"y":252},{"trace":"A","t":120,"y":251.5},{"trace":"A","t":150,"y":252.5},{"trace":"A","t":190,"y":252},{"trace":"A","t":194,"y":256},{"trace":"A","t":199,"y":260},{"trace":"A","t":205,"y":262},{"trace":"A","t":209,"y":277},{"trace":"A","t":213,"y":267},{"trace":"A","t":216,"y":262},{"trace":"A","t":221,"y":265},{"trace":"A","t":226,"y":278},{"trace":"A","t":230,"y":268},{"trace":"A","t":234,"y":270},{"trace":"A","t":240,"y":268},{"trace":"A","t":246,"y":266},{"trace":"A","t":250,"y":265},{"trace":"A","t":256,"y":258},{"trace":"A","t":262,"y":250},{"trace":"A","t":265,"y":243},{"trace":"A","t":269,"y":238},{"trace":"A","t":273,"y":235},{"trace":"A","t":277,"y":237},{"trace":"A","t":281,"y":233},{"trace":"A","t":285,"y":237},{"trace":"A","t":291,"y":230},{"trace":"A","t":296,"y":232},{"trace":"A","t":300,"y":227},{"trace":"A","t":304,"y":231},{"trace":"A","t":311,"y":230},{"trace":"A","t":316,"y":232},{"trace":"A","t":320,"y":238},{"trace":"A","t":323,"y":243},{"trace":"A","t":327,"y":250},{"trace":"A","t":335,"y":252},{"trace":"A","t":343,"y":252},{"trace":"A","t":347,"y":258},{"trace":"A","t":351,"y":267},{"trace":"A","t":354,"y":262},{"trace":"A","t":357,"y":250},{"trace":"A","t":363,"y":253},{"trace":"A","t":369,"y":252},{"trace":"A","t":400,"y":252},{"trace":"A","t":403,"y":247},{"trace":"A","t":406,"y":235},{"trace":"A","t":410,"y":237},{"trace":"A","t":412,"y":243},{"trace":"A","t":415,"y":250},{"trace":"A","t":420,"y":258},{"trace":"A","t":425,"y":268},{"trace":"A","t":431,"y":278},{"trace":"A","t":435,"y":270},{"trace":"A","t":440,"y":270},{"trace":"A","t":445,"y":268},{"trace":"A","t":450,"y":268},{"trace":"A","t":457,"y":267},{"trace":"A","t":461,"y":265},{"trace":"A","t":465,"y":263},{"trace":"A","t":469,"y":255},{"trace":"A","t":475,"y":252},{"trace":"A","t":488,"y":252},{"trace":"A","t":492,"y":245},{"trace":"A","t":495,"y":238},{"trace":"A","t":500,"y":239},{"trace":"A","t":505,"y":247},{"trace":"A","t":509,"y":254},{"trace":"A","t":512,"y":258},{"trace":"A","t":516,"y":257},{"trace":"A","t":520,"y":250},{"trace":"A","t":524,"y":246},{"trace":"A","t":527,"y":245},{"trace":"A","t":531,"y":247},{"trace":"A","t":535,"y":250},{"trace":"A","t":538,"y":252},{"trace":"A","t":544,"y":250},{"trace":"A","t":549,"y":253},{"trace":"A","t":555,"y":253},{"trace":"A","t":561,"y":249},{"trace":"A","t":567,"y":251},{"trace":"A","t":572,"y":253},{"trace":"A","t":578,"y":250},{"trace":"A","t":584,"y":252},{"trace":"A","t":590,"y":249},{"trace":"A","t":595,"y":252},{"trace":"A","t":601,"y":250},{"trace":"A","t":607,"y":253},{"trace":"A","t":613,"y":249},{"trace":"A","t":618,"y":253},{"trace":"A","t":624,"y":252},{"trace":"A","t":630,"y":249},{"trace":"A","t":636,"y":253},{"trace":"A","t":641,"y":250},{"trace":"A","t":647,"y":253},{"trace":"A","t":653,"y":249},{"trace":"A","t":659,"y":252},{"trace":"A","t":664,"y":253},{"trace":"A","t":670,"y":250},{"trace":"A","t":676,"y":252},{"trace":"A","t":682,"y":249},{"trace":"A","t":687,"y":253},{"trace":"A","t":693,"y":251},{"trace":"A","t":699,"y":254},{"trace":"A","t":705,"y":250},{"trace":"A","t":709,"y":251},{"trace":"A","t":712,"y":257},{"trace":"A","t":716,"y":263},{"trace":"A","t":719,"y":253},{"trace":"A","t":722,"y":252},{"trace":"A","t":725,"y":262},{"trace":"A","t":728,"y":253},{"trace":"A","t":733,"y":252},{"trace":"A","t":745,"y":252},{"trace":"A","t":748,"y":245},{"trace":"A","t":751,"y":238},{"trace":"A","t":755,"y":242},{"trace":"A","t":758,"y":260},{"trace":"A","t":762,"y":272},{"trace":"A","t":766,"y":258},{"trace":"A","t":769,"y":245},{"trace":"A","t":771,"y":238},{"trace":"A","t":775,"y":235},{"trace":"A","t":779,"y":250},{"trace":"A","t":785,"y":257},{"trace":"A","t":792,"y":260},{"trace":"A","t":796,"y":262},{"trace":"A","t":800,"y":265},{"trace":"A","t":802,"y":267},{"trace":"A","t":805,"y":262},{"trace":"A","t":808,"y":257},{"trace":"A","t":814,"y":252},{"trace":"A","t":831,"y":252},{"trace":"A","t":835,"y":245},{"trace":"A","t":838,"y":239},{"trace":"A","t":844,"y":242},{"trace":"A","t":849,"y":247},{"trace":"A","t":853,"y":252},{"trace":"A","t":857,"y":252},{"trace":"A","t":862,"y":249},{"trace":"A","t":865,"y":246},{"trace":"A","t":868,"y":242},{"trace":"A","t":872,"y":243},{"trace":"A","t":875,"y":240},{"trace":"A","t":878,"y":237},{"trace":"A","t":882,"y":239},{"trace":"A","t":886,"y":233},{"trace":"A","t":890,"y":228},{"trace":"A","t":893,"y":222},{"trace":"A","t":896,"y":228},{"trace":"A","t":900,"y":237},{"trace":"A","t":904,"y":246},{"trace":"A","t":907,"y":253},{"trace":"A","t":910,"y":250},{"trace":"A","t":913,"y":247},{"trace":"A","t":916,"y":252},{"trace":"A","t":919,"y":253},{"trace":"A","t":935,"y":252},{"trace":"A","t":947,"y":250},{"trace":"A","t":951,"y":254},{"trace":"A","t":955,"y":258},{"trace":"A","t":960,"y":263},{"trace":"A","t":964,"y":260},{"trace":"A","t":968,"y":265},{"trace":"A","t":972,"y":272},{"trace":"A","t":975,"y":268},{"trace":"A","t":978,"y":264},
{"trace":"B","t":97,"y":753},{"trace":"B","t":130,"y":752.5},{"trace":"B","t":180,"y":753.5},{"trace":"B","t":250,"y":753},{"trace":"B","t":252,"y":756},{"trace":"B","t":254,"y":763},{"trace":"B","t":258,"y":765},{"trace":"B","t":260,"y":782},{"trace":"B","t":264,"y":765},{"trace":"B","t":267,"y":763},{"trace":"B","t":270,"y":779},{"trace":"B","t":273,"y":758},{"trace":"B","t":276,"y":760},{"trace":"B","t":278,"y":753},{"trace":"B","t":282,"y":755},{"trace":"B","t":287,"y":752},{"trace":"B","t":291,"y":750},{"trace":"B","t":295,"y":753},{"trace":"B","t":300,"y":755},{"trace":"B","t":305,"y":753},{"trace":"B","t":400,"y":753},{"trace":"B","t":450,"y":753.5},{"trace":"B","t":519,"y":753},{"trace":"B","t":524,"y":767},{"trace":"B","t":527,"y":774},{"trace":"B","t":531,"y":762},{"trace":"B","t":534,"y":743},{"trace":"B","t":538,"y":727},{"trace":"B","t":542,"y":735},{"trace":"B","t":547,"y":728},{"trace":"B","t":550,"y":723},{"trace":"B","t":554,"y":732},{"trace":"B","t":558,"y":740},{"trace":"B","t":562,"y":753},{"trace":"B","t":567,"y":753},{"trace":"B","t":570,"y":762},{"trace":"B","t":574,"y":775},{"trace":"B","t":577,"y":753},{"trace":"B","t":595,"y":753},{"trace":"B","t":599,"y":732},{"trace":"B","t":602,"y":750},{"trace":"B","t":605,"y":755},{"trace":"B","t":609,"y":767},{"trace":"B","t":612,"y":778},{"trace":"B","t":614,"y":787},{"trace":"B","t":618,"y":777},{"trace":"B","t":622,"y":775},{"trace":"B","t":627,"y":768},{"trace":"B","t":630,"y":762},{"trace":"B","t":633,"y":755},{"trace":"B","t":637,"y":753},{"trace":"B","t":644,"y":753},{"trace":"B","t":647,"y":734},{"trace":"B","t":651,"y":745},{"trace":"B","t":654,"y":752},{"trace":"B","t":658,"y":753},{"trace":"B","t":710,"y":753},{"trace":"B","t":714,"y":766},{"trace":"B","t":717,"y":760},{"trace":"B","t":722,"y":750},{"trace":"B","t":725,"y":758},{"trace":"B","t":729,"y":752},{"trace":"B","t":732,"y":740},{"trace":"B","t":734.5,"y":768},{"trace":"B","t":738,"y":752},{"trace":"B","t":745,"y":752},{"trace":"B","t":749,"y":742},{"trace":"B","t":752,"y":767},{"trace":"B","t":756,"y":750},{"trace":"B","t":759,"y":745},{"trace":"B","t":763,"y":758},{"trace":"B","t":768,"y":747},{"trace":"B","t":772,"y":758},{"trace":"B","t":776,"y":748},{"trace":"B","t":780,"y":755},{"trace":"B","t":785,"y":745},{"trace":"B","t":790,"y":758},{"trace":"B","t":794,"y":750},{"trace":"B","t":798,"y":757},{"trace":"B","t":802,"y":749},{"trace":"B","t":807,"y":757},{"trace":"B","t":811,"y":750},{"trace":"B","t":815,"y":757},{"trace":"B","t":820,"y":751},{"trace":"B","t":824,"y":758},{"trace":"B","t":828,"y":750},{"trace":"B","t":832,"y":758},{"trace":"B","t":835,"y":740},{"trace":"B","t":838,"y":758},{"trace":"B","t":842,"y":747},{"trace":"B","t":847,"y":740},{"trace":"B","t":851,"y":733},{"trace":"B","t":854,"y":738},{"trace":"B","t":858,"y":737},{"trace":"B","t":862,"y":717},{"trace":"B","t":865,"y":730},{"trace":"B","t":869,"y":740},{"trace":"B","t":872,"y":747},{"trace":"B","t":876,"y":760},{"trace":"B","t":880,"y":752},{"trace":"B","t":886,"y":753},{"trace":"B","t":978,"y":753}
],
"ablue": [
{"trace":"A","t":97,"y":147},{"trace":"A","t":190,"y":147},{"trace":"A","t":204,"y":148},{"trace":"A","t":207,"y":160},{"trace":"A","t":210,"y":176},{"trace":"A","t":213,"y":176},{"trace":"A","t":216,"y":160},{"trace":"A","t":219,"y":148},{"trace":"A","t":222,"y":150},{"trace":"A","t":225,"y":168},{"trace":"A","t":228,"y":180},{"trace":"A","t":230,"y":175},{"trace":"A","t":233,"y":155},{"trace":"A","t":236,"y":148},{"trace":"A","t":239,"y":149},{"trace":"A","t":242,"y":160},{"trace":"A","t":245,"y":170},{"trace":"A","t":247,"y":158},{"trace":"A","t":249,"y":149},{"trace":"A","t":252,"y":147},{"trace":"A","t":270,"y":147},{"trace":"A","t":272,"y":153},{"trace":"A","t":274,"y":147},{"trace":"A","t":277,"y":148},{"trace":"A","t":280,"y":146},{"trace":"A","t":283,"y":135},{"trace":"A","t":285,"y":118},{"trace":"A","t":287,"y":116},{"trace":"A","t":289,"y":125},{"trace":"A","t":291,"y":145},{"trace":"A","t":293,"y":147},{"trace":"A","t":297,"y":147},{"trace":"A","t":299,"y":130},{"trace":"A","t":302,"y":113},{"trace":"A","t":304,"y":112},{"trace":"A","t":306,"y":128},{"trace":"A","t":308,"y":146},{"trace":"A","t":311,"y":147},{"trace":"A","t":314,"y":140},{"trace":"A","t":317,"y":128},{"trace":"A","t":319,"y":127},{"trace":"A","t":321,"y":140},{"trace":"A","t":323,"y":147},{"trace":"A","t":414,"y":147},{"trace":"A","t":418,"y":148},{"trace":"A","t":422,"y":150},{"trace":"A","t":425,"y":155},{"trace":"A","t":428,"y":149},{"trace":"A","t":432,"y":148},{"trace":"A","t":436,"y":147},{"trace":"A","t":440,"y":150},{"trace":"A","t":443,"y":165},{"trace":"A","t":445,"y":173},{"trace":"A","t":447,"y":170},{"trace":"A","t":450,"y":150},{"trace":"A","t":453,"y":148},{"trace":"A","t":456,"y":160},{"trace":"A","t":458,"y":173},{"trace":"A","t":460,"y":168},{"trace":"A","t":461,"y":145},{"trace":"A","t":463,"y":147},{"trace":"A","t":768,"y":147},{"trace":"A","t":772,"y":148},{"trace":"A","t":775,"y":150},{"trace":"A","t":778,"y":148},{"trace":"A","t":781,"y":146},{"trace":"A","t":784,"y":133},{"trace":"A","t":786,"y":145},{"trace":"A","t":788,"y":148},{"trace":"A","t":792,"y":148},{"trace":"A","t":794,"y":155},{"trace":"A","t":795,"y":158},{"trace":"A","t":797,"y":152},{"trace":"A","t":798,"y":165},{"trace":"A","t":800,"y":160},{"trace":"A","t":802,"y":148},{"trace":"A","t":805,"y":147},{"trace":"A","t":858,"y":147},{"trace":"A","t":860,"y":149},{"trace":"A","t":862,"y":152},{"trace":"A","t":864,"y":148},{"trace":"A","t":872,"y":147},{"trace":"A","t":874,"y":138},{"trace":"A","t":877,"y":118},{"trace":"A","t":879,"y":112},{"trace":"A","t":881,"y":120},{"trace":"A","t":884,"y":145},{"trace":"A","t":887,"y":148},{"trace":"A","t":890,"y":140},{"trace":"A","t":893,"y":120},{"trace":"A","t":895,"y":118},{"trace":"A","t":897,"y":128},{"trace":"A","t":900,"y":147},{"trace":"A","t":905,"y":147},{"trace":"A","t":908,"y":142},{"trace":"A","t":911,"y":140},{"trace":"A","t":913,"y":143},{"trace":"A","t":916,"y":147},{"trace":"A","t":948,"y":147},{"trace":"A","t":951,"y":150},{"trace":"A","t":954,"y":160},{"trace":"A","t":956,"y":152},{"trace":"A","t":958,"y":147},{"trace":"A","t":966,"y":147},{"trace":"A","t":969,"y":150},{"trace":"A","t":972,"y":165},{"trace":"A","t":975,"y":175},{"trace":"A","t":977,"y":170},{"trace":"A","t":978,"y":163},
{"trace":"B","t":97,"y":653.5},{"trace":"B","t":250,"y":653.5},{"trace":"B","t":254,"y":656},{"trace":"B","t":258,"y":672},{"trace":"B","t":262,"y":681},{"trace":"B","t":265,"y":665},{"trace":"B","t":268,"y":660},{"trace":"B","t":271,"y":682},{"trace":"B","t":273,"y":670},{"trace":"B","t":276,"y":656},{"trace":"B","t":280,"y":654},{"trace":"B","t":284,"y":654},{"trace":"B","t":286,"y":657},{"trace":"B","t":288,"y":653.5},{"trace":"B","t":520,"y":653.5},{"trace":"B","t":523,"y":656},{"trace":"B","t":525,"y":662},{"trace":"B","t":527,"y":656},{"trace":"B","t":529,"y":653.5},{"trace":"B","t":538,"y":653.5},{"trace":"B","t":541,"y":645},{"trace":"B","t":544,"y":635},{"trace":"B","t":546,"y":648},{"trace":"B","t":549,"y":630},{"trace":"B","t":551,"y":620},{"trace":"B","t":553,"y":630},{"trace":"B","t":556,"y":648},{"trace":"B","t":558,"y":640},{"trace":"B","t":560,"y":650},{"trace":"B","t":562,"y":653.5},{"trace":"B","t":607,"y":653.5},{"trace":"B","t":610,"y":656},{"trace":"B","t":612,"y":662},{"trace":"B","t":614,"y":658},{"trace":"B","t":617,"y":670},{"trace":"B","t":620,"y":685},{"trace":"B","t":622,"y":675},{"trace":"B","t":625,"y":665},{"trace":"B","t":628,"y":675},{"trace":"B","t":630,"y":668},{"trace":"B","t":633,"y":655},{"trace":"B","t":636,"y":653.5},{"trace":"B","t":650,"y":653.5},{"trace":"B","t":651.5,"y":649},{"trace":"B","t":653,"y":653.5},{"trace":"B","t":838,"y":653.5},{"trace":"B","t":841,"y":657},{"trace":"B","t":844,"y":650},{"trace":"B","t":847,"y":645},{"trace":"B","t":850,"y":635},{"trace":"B","t":852,"y":628},{"trace":"B","t":854,"y":640},{"trace":"B","t":857,"y":632},{"trace":"B","t":859,"y":627},{"trace":"B","t":861,"y":635},{"trace":"B","t":864,"y":650},{"trace":"B","t":866,"y":637},{"trace":"B","t":868,"y":645},{"trace":"B","t":870,"y":653.5},{"trace":"B","t":978,"y":653.5}
],
"ared": [
{"trace":"A","t":97,"y":147},{"trace":"A","t":190,"y":147},{"trace":"A","t":196,"y":148},{"trace":"A","t":199,"y":160},{"trace":"A","t":201,"y":172},{"trace":"A","t":203,"y":171},{"trace":"A","t":206,"y":155},{"trace":"A","t":209,"y":148},{"trace":"A","t":215,"y":148},{"trace":"A","t":218,"y":160},{"trace":"A","t":221,"y":170},{"trace":"A","t":223,"y":168},{"trace":"A","t":226,"y":150},{"trace":"A","t":229,"y":148},{"trace":"A","t":231,"y":155},{"trace":"A","t":234,"y":170},{"trace":"A","t":236,"y":178},{"trace":"A","t":238,"y":172},{"trace":"A","t":240,"y":152},{"trace":"A","t":243,"y":148},{"trace":"A","t":248,"y":150},{"trace":"A","t":250,"y":153},{"trace":"A","t":252,"y":147},{"trace":"A","t":272,"y":147},{"trace":"A","t":275,"y":145},{"trace":"A","t":277,"y":142},{"trace":"A","t":279,"y":140},{"trace":"A","t":281,"y":143},{"trace":"A","t":284,"y":147},{"trace":"A","t":288,"y":147},{"trace":"A","t":291,"y":130},{"trace":"A","t":294,"y":113},{"trace":"A","t":296,"y":112},{"trace":"A","t":298,"y":125},{"trace":"A","t":300,"y":146},{"trace":"A","t":303,"y":147},{"trace":"A","t":306,"y":128},{"trace":"A","t":309,"y":115},{"trace":"A","t":311,"y":112},{"trace":"A","t":313,"y":125},{"trace":"A","t":315,"y":146},{"trace":"A","t":318,"y":147},{"trace":"A","t":414,"y":147},{"trace":"A","t":416,"y":146},{"trace":"A","t":418,"y":142},{"trace":"A","t":420,"y":146},{"trace":"A","t":423,"y":150},{"trace":"A","t":426,"y":147},{"trace":"A","t":428,"y":143},{"trace":"A","t":430,"y":142},{"trace":"A","t":432,"y":147},{"trace":"A","t":434,"y":160},{"trace":"A","t":436,"y":175},{"trace":"A","t":438,"y":177},{"trace":"A","t":440,"y":165},{"trace":"A","t":442,"y":150},{"trace":"A","t":445,"y":148},{"trace":"A","t":448,"y":165},{"trace":"A","t":450,"y":175},{"trace":"A","t":452,"y":170},{"trace":"A","t":454,"y":150},{"trace":"A","t":457,"y":148},{"trace":"A","t":462,"y":148},{"trace":"A","t":464,"y":155},{"trace":"A","t":465,"y":155},{"trace":"A","t":466,"y":148},{"trace":"A","t":468,"y":147},{"trace":"A","t":768,"y":147},{"trace":"A","t":770,"y":144},{"trace":"A","t":772,"y":142},{"trace":"A","t":774,"y":147},{"trace":"A","t":778,"y":148},{"trace":"A","t":782,"y":147},{"trace":"A","t":785,"y":140},{"trace":"A","t":787,"y":138},{"trace":"A","t":789,"y":148},{"trace":"A","t":791,"y":165},{"trace":"A","t":792,"y":168},{"trace":"A","t":794,"y":160},{"trace":"A","t":796,"y":149},{"trace":"A","t":800,"y":148},{"trace":"A","t":805,"y":147},{"trace":"A","t":864,"y":147},{"trace":"A","t":866,"y":140},{"trace":"A","t":868,"y":133},{"trace":"A","t":870,"y":140},{"trace":"A","t":872,"y":147},{"trace":"A","t":880,"y":147},{"trace":"A","t":883,"y":130},{"trace":"A","t":886,"y":112},{"trace":"A","t":888,"y":111},{"trace":"A","t":890,"y":125},{"trace":"A","t":892,"y":146},{"trace":"A","t":895,"y":147},{"trace":"A","t":898,"y":140},{"trace":"A","t":900,"y":128},{"trace":"A","t":903,"y":127},{"trace":"A","t":905,"y":130},{"trace":"A","t":907,"y":147},{"trace":"A","t":955,"y":147},{"trace":"A","t":957,"y":150},{"trace":"A","t":959,"y":155},{"trace":"A","t":961,"y":150},{"trace":"A","t":963,"y":160},{"trace":"A","t":965,"y":173},{"trace":"A","t":967,"y":165},{"trace":"A","t":969,"y":150},{"trace":"A","t":971,"y":147},{"trace":"A","t":978,"y":147},
{"trace":"B","t":97,"y":654.5},{"trace":"B","t":250,"y":654.5},{"trace":"B","t":253,"y":658},{"trace":"B","t":256,"y":675},{"trace":"B","t":259,"y":665},{"trace":"B","t":263,"y":662},{"trace":"B","t":266,"y":678},{"trace":"B","t":268,"y":670},{"trace":"B","t":271,"y":658},{"trace":"B","t":274,"y":660},{"trace":"B","t":276,"y":667},{"trace":"B","t":278,"y":657},{"trace":"B","t":281,"y":655},{"trace":"B","t":287,"y":654.5},{"trace":"B","t":290,"y":652},{"trace":"B","t":292,"y":654.5},{"trace":"B","t":536,"y":654.5},{"trace":"B","t":538,"y":648},{"trace":"B","t":540,"y":652},{"trace":"B","t":543,"y":650},{"trace":"B","t":545,"y":640},{"trace":"B","t":547,"y":622},{"trace":"B","t":549,"y":640},{"trace":"B","t":551,"y":652},{"trace":"B","t":553,"y":640},{"trace":"B","t":555,"y":628},{"trace":"B","t":557,"y":645},{"trace":"B","t":560,"y":654.5},{"trace":"B","t":606,"y":654.5},{"trace":"B","t":608,"y":650},{"trace":"B","t":610,"y":654.5},{"trace":"B","t":613,"y":665},{"trace":"B","t":615,"y":683},{"trace":"B","t":617,"y":689},{"trace":"B","t":619,"y":675},{"trace":"B","t":622,"y":665},{"trace":"B","t":624,"y":678},{"trace":"B","t":626,"y":670},{"trace":"B","t":629,"y":660},{"trace":"B","t":633,"y":658},{"trace":"B","t":635,"y":654.5},{"trace":"B","t":653,"y":654.5},{"trace":"B","t":655,"y":650},{"trace":"B","t":657,"y":654.5},{"trace":"B","t":842,"y":654.5},{"trace":"B","t":845,"y":648},{"trace":"B","t":847,"y":643},{"trace":"B","t":849,"y":650},{"trace":"B","t":852,"y":640},{"trace":"B","t":855,"y":620},{"trace":"B","t":857,"y":640},{"trace":"B","t":860,"y":650},{"trace":"B","t":862,"y":632},{"trace":"B","t":864,"y":640},{"trace":"B","t":867,"y":654.5},{"trace":"B","t":978,"y":654.5}
],
"letters": [{"t":22,"y":58,"text":"A)"},{"t":22,"y":552,"text":"B)"}],
"titles": [{"t":591,"y":60,"text":"Sub-tasks without BAZAR"},{"t":572,"y":553,"text":"Sub-tasks with BAZAR"}],
"segnums": [
{"t":145,"y":99,"text":"1"},{"t":219,"y":99,"text":"2"},{"t":262,"y":99,"text":"3"},{"t":300,"y":99,"text":"4"},{"t":375,"y":99,"text":"5"},{"t":440,"y":99,"text":"6"},{"t":481,"y":99,"text":"7"},{"t":521,"y":99,"text":"8"},{"t":633,"y":99,"text":"9"},{"t":756,"y":99,"text":"10"},{"t":786,"y":99,"text":"11"},{"t":828,"y":99,"text":"12"},{"t":887,"y":99,"text":"13"},{"t":945,"y":99,"text":"14"},
{"t":173,"y":607,"text":"1"},{"t":272,"y":607,"text":"2"},{"t":424,"y":607,"text":"3"},{"t":550,"y":607,"text":"4"},{"t":586,"y":607,"text":"5"},{"t":621,"y":607,"text":"6"},{"t":684,"y":607,"text":"7"},{"t":777,"y":607,"text":"8"},{"t":866,"y":607,"text":"9"},{"t":932,"y":607,"text":"10"}
],
"rowlabels": [
{"t":66,"y":153,"text":"a)"},{"t":66,"y":246,"text":"b)"},{"t":66,"y":340,"text":"c)"},{"t":66,"y":434,"text":"d)"},
{"t":66,"y":656,"text":"a)"},{"t":66,"y":750,"text":"b)"},{"t":66,"y":843,"text":"c)"},{"t":66,"y":937,"text":"d)"}
],
"legend": [
{"n":"1.","t":1003,"t2":1036,"y":110,"text":"static 1"},{"n":"2.","t":1003,"t2":1036,"y":137,"text":"walking 1"},{"n":"3.","t":1003,"t2":1036,"y":164,"text":"static 2"},{"n":"4.","t":1003,"t2":1036,"y":191,"text":"lifting+carrying+placing 1"},{"n":"5.","t":1003,"t2":1036,"y":218,"text":"static 3"},{"n":"6.","t":1003,"t2":1036,"y":245,"text":"lifting+carrying+placing 2"},{"n":"7.","t":1003,"t2":1036,"y":272,"text":"static 4"},{"n":"8.","t":1003,"t2":1036,"y":300,"text":"lifting 1"},{"n":"9.","t":1003,"t2":1036,"y":327,"text":"brushing"},{"n":"10.","t":1003,"t2":1036,"y":354,"text":"placing+lifting 2"},{"n":"11.","t":1003,"t2":1036,"y":381,"text":"move on table"},{"n":"12.","t":1003,"t2":1036,"y":408,"text":"static 5"},{"n":"13.","t":1003,"t2":1036,"y":436,"text":"walking 2"},{"n":"14.","t":1003,"t2":1036,"y":463,"text":"static 6"},
{"n":"1.","t":1003,"t2":1036,"y":616,"text":"static 1"},{"n":"2.","t":1003,"t2":1036,"y":643,"text":"walking 1"},{"n":"3.","t":1003,"t2":1036,"y":670,"text":"static 2"},{"n":"4.","t":1003,"t2":1036,"y":697,"text":"lifting+carrying+placing 1"},{"n":"5.","t":1003,"t2":1036,"y":724,"text":"static 3"},{"n":"6.","t":1003,"t2":1036,"y":751,"text":"lifting+carrying+placing 2"},{"n":"7.","t":1003,"t2":1036,"y":778,"text":"static 4"},{"n":"8.","t":1003,"t2":1036,"y":806,"text":"brushing"},{"n":"9.","t":1003,"t2":1036,"y":833,"text":"placing+walking 2"},{"n":"10.","t":1003,"t2":1036,"y":860,"text":"static 5"}
],
"marks": [{"t":611,"y":326,"text":"Y"},{"t":637,"y":828,"text":"X"}],
"circles": [{"t":601,"y":341,"text":"O"},{"t":628,"y":858,"text":"O"}]
},
"encoding": {
"x": {"field": "t", "type": "quantitative", "scale": {"domain": [0, 1286], "nice": false, "zero": false}, "axis": null},
"y": {"field": "y", "type": "quantitative", "scale": {"domain": [0, 1039], "nice": false, "zero": false, "reverse": true}, "axis": null}
},
"layer": [
{"data": {"name": "bounds"}, "mark": {"type": "rule", "color": "#808080", "strokeWidth": 1, "strokeDash": [6, 4]}, "encoding": {"y2": {"field": "y2"}}},
{"data": {"name": "baselines"}, "mark": {"type": "rule", "color": "#3a3a3a", "strokeWidth": 1.5}, "encoding": {"x2": {"field": "t2"}}},
{"data": {"name": "env"}, "mark": {"type": "area", "color": "#262626", "stroke": "#262626", "strokeWidth": 0.6}, "encoding": {"y2": {"field": "y2"}, "detail": {"field": "trace"}}},
{"data": {"name": "spikes"}, "mark": {"type": "rule", "color": "#2a2a2a", "strokeWidth": 1}, "encoding": {"y2": {"field": "y2"}}},
{"data": {"name": "bsig"}, "mark": {"type": "line", "color": "#ff3030", "strokeWidth": 1}, "encoding": {"detail": {"field": "trace"}}},
{"data": {"name": "ablue"}, "mark": {"type": "line", "color": "#4646ff", "strokeWidth": 1.2}, "encoding": {"detail": {"field": "trace"}}},
{"data": {"name": "ared"}, "mark": {"type": "line", "color": "#ff3a3a", "strokeWidth": 1.2}, "encoding": {"detail": {"field": "trace"}}},
{"data": {"name": "letters"}, "mark": {"type": "text", "font": "Lato", "fontSize": 23, "fontWeight": "bold", "color": "#000", "align": "center", "baseline": "middle"}, "encoding": {"text": {"field": "text"}}},
{"data": {"name": "titles"}, "mark": {"type": "text", "font": "Lato", "fontSize": 25, "fontWeight": "bold", "color": "#000", "align": "center", "baseline": "middle"}, "encoding": {"text": {"field": "text"}}},
{"data": {"name": "segnums"}, "mark": {"type": "text", "font": "Lato", "fontSize": 20, "fontWeight": "bold", "color": "#000", "align": "center", "baseline": "middle"}, "encoding": {"text": {"field": "text"}}},
{"data": {"name": "rowlabels"}, "mark": {"type": "text", "font": "Lato", "fontSize": 20, "fontWeight": "bold", "color": "#000", "align": "center", "baseline": "middle"}, "encoding": {"text": {"field": "text"}}},
{"data": {"name": "legend"}, "mark": {"type": "text", "font": "Lato", "fontSize": 21, "color": "#000", "align": "left", "baseline": "middle"}, "encoding": {"text": {"field": "n"}}},
{"data": {"name": "legend"}, "mark": {"type": "text", "font": "Lato", "fontSize": 21, "color": "#000", "align": "left", "baseline": "middle"}, "encoding": {"x": {"field": "t2", "type": "quantitative"}, "text": {"field": "text"}}},
{"data": {"name": "marks"}, "mark": {"type": "text", "font": "DejaVu Sans", "fontSize": 12, "color": "#888", "align": "center", "baseline": "middle"}, "encoding": {"text": {"field": "text"}}},
{"data": {"name": "circles"}, "mark": {"type": "text", "font": "DejaVu Sans", "fontSize": 10, "color": "#b8b080", "align": "center", "baseline": "middle"}, "encoding": {"text": {"field": "text"}}}
]
}
